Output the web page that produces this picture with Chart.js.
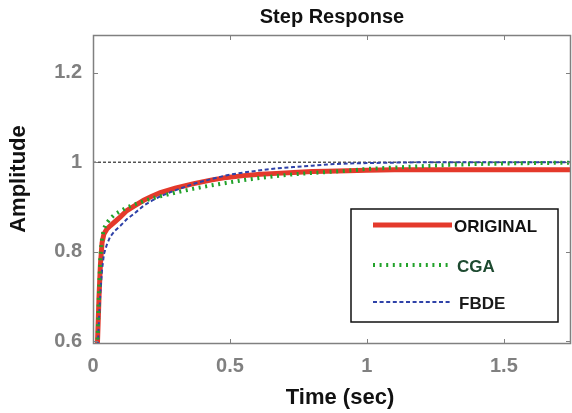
<!DOCTYPE html>
<html>
<head>
<meta charset="utf-8">
<title>Step Response</title>
<script src="https://cdn.jsdelivr.net/npm/chart.js@4.4.0/dist/chart.umd.min.js"></script>
<style>
  html, body { margin: 0; padding: 0; background: #fff; }
  #wrap { width: 572px; height: 413px; }
</style>
</head>
<body>
<div id="wrap"><canvas id="stepChart" width="572" height="413"></canvas></div>
<script>
/**
 * Step Response - ORIGINAL / CGA / FBDE
 */
var time = [0, 0.016, 0.022, 0.027, 0.033, 0.04, 0.05, 0.063, 0.08, 0.1, 0.124, 0.15, 0.185, 0.215, 0.246,
  0.3, 0.368, 0.43, 0.489, 0.55, 0.611, 0.67, 0.732, 0.8, 0.854, 0.93, 1.0, 1.1, 1.2, 1.3, 1.4, 1.5, 1.6, 1.75];
var original = [0, 0.59, 0.70, 0.77, 0.82, 0.84, 0.85, 0.858, 0.867, 0.878, 0.892, 0.902, 0.915, 0.924, 0.932,
  0.942, 0.952, 0.960, 0.966, 0.970, 0.973, 0.975, 0.977, 0.979, 0.980, 0.981, 0.982, 0.983, 0.983, 0.983, 0.983, 0.983, 0.983, 0.983];
var cga = [0, 0.59, 0.71, 0.79, 0.83, 0.852, 0.864, 0.874, 0.884, 0.891, 0.899, 0.905, 0.913, 0.919, 0.924,
  0.932, 0.941, 0.948, 0.954, 0.960, 0.965, 0.969, 0.973, 0.976, 0.978, 0.981, 0.985, 0.988, 0.991, 0.994, 0.996, 0.997, 0.998, 0.999];
var fbde = [0, 0.56, 0.65, 0.71, 0.76, 0.795, 0.815, 0.834, 0.847, 0.858, 0.873, 0.885, 0.903, 0.914, 0.924,
  0.937, 0.952, 0.962, 0.971, 0.977, 0.982, 0.986, 0.989, 0.992, 0.995, 0.997, 0.998, 0.999, 1.0, 1.0, 1.0, 1.0, 1.0, 1.0];
var setPoint = [1, 1];
var setPointTime = [0, 1.745];
var xTicks = [0, 0.5, 1, 1.5];
var yTicks = [0.6, 0.8, 1, 1.2];
var seriesNames = ['ORIGINAL', 'CGA', 'FBDE'];

(function() {
  var FONT = '"Liberation Sans", Arial, Helvetica, sans-serif';
  var GRAY = '#808080';
  Chart.defaults.font.family = FONT;

  function pts(xs, ys) {
    return xs.map(function(t, i) { return { x: t, y: ys[i] }; });
  }
  function fixedTicks(list) {
    return function(scale) {
      scale.ticks = list.map(function(v) { return { value: v }; });
    };
  }
  function fmt(v) { return String(v); }

  // box, inward ticks and axis titles (MATLAB style)
  var framePlugin = {
    id: 'frame',
    afterDatasetsDraw: function(chart) {
      var ctx = chart.ctx, a = chart.chartArea, xs = chart.scales.x, ys = chart.scales.y;
      ctx.save();
      ctx.strokeStyle = GRAY;
      ctx.lineWidth = 1.5;
      ctx.strokeRect(a.left + 0.5, a.top + 0.5, a.right - a.left - 1, a.bottom - a.top - 1);
      ctx.lineWidth = 1;
      ctx.beginPath();
      xTicks.forEach(function(v) {
        var px = Math.round(xs.getPixelForValue(v)) + 0.5;
        ctx.moveTo(px, a.bottom); ctx.lineTo(px, a.bottom - 5);
        ctx.moveTo(px, a.top); ctx.lineTo(px, a.top + 5);
      });
      yTicks.forEach(function(v) {
        var py = Math.round(ys.getPixelForValue(v)) + 0.5;
        ctx.moveTo(a.left, py); ctx.lineTo(a.left + 5, py);
        ctx.moveTo(a.right, py); ctx.lineTo(a.right - 5, py);
      });
      ctx.stroke();

      ctx.fillStyle = '#111';
      ctx.font = 'bold 22px ' + FONT;
      ctx.textAlign = 'center';
      ctx.textBaseline = 'middle';
      ctx.fillText('Time (sec)', 340, 398);
      ctx.translate(19, 179);
      ctx.rotate(-Math.PI / 2);
      ctx.fillText('Amplitude', 0, 0);
      ctx.restore();
    }
  };

  var legendTextColors = ['#111', '#1d4a30', '#1a1a1a'];
  var legendTextShift = [2, 5, 7];

  var legendPlugin = {
    id: 'boxLegend',
    afterDraw: function(chart) {
      var ctx = chart.ctx;
      var box = { left: 351, top: 209, right: 558, bottom: 322 };
      var rows = [16, 56, 93];
      ctx.save();
      ctx.fillStyle = '#fff';
      ctx.fillRect(box.left, box.top, box.right - box.left, box.bottom - box.top);
      ctx.strokeStyle = '#111';
      ctx.lineWidth = 1.5;
      ctx.strokeRect(box.left, box.top, box.right - box.left, box.bottom - box.top);
      seriesNames.forEach(function(name, i) {
        var ds = chart.data.datasets.filter(function(d) { return d.label === name; })[0];
        var y = box.top + rows[i];
        var x0 = box.left + 22, x1 = box.left + 101;
        ctx.beginPath();
        ctx.strokeStyle = ds.borderColor;
        ctx.lineWidth = ds.borderWidth;
        ctx.setLineDash(ds.borderDash || []);
        ctx.moveTo(x0, y); ctx.lineTo(x1, y);
        ctx.stroke();
        ctx.setLineDash([]);
        ctx.fillStyle = legendTextColors[i];
        ctx.font = 'bold 17px ' + FONT;
        ctx.textAlign = 'left';
        ctx.textBaseline = 'middle';
        ctx.fillText(name, x1 + legendTextShift[i], y + 2);
      });
      ctx.restore();
    }
  };

  new Chart(document.getElementById('stepChart'), {
    type: 'line',
    data: {
      datasets: [
        { label: 'CGA', data: pts(time, cga), borderColor: '#22a22a', borderWidth: 4, borderDash: [2, 4.6], order: 0 },
        { label: 'FBDE', data: pts(time, fbde), borderColor: '#2f42a8', borderWidth: 2, borderDash: [4, 2.6], order: 1 },
        { label: 'ORIGINAL', data: pts(time, original), borderColor: '#e4392b', borderWidth: 5, order: 2 },
        { label: 'setpoint', data: pts(setPointTime, setPoint), borderColor: '#000', borderWidth: 1, borderDash: [3, 2], order: 3 }
      ]
    },
    options: {
      responsive: false,
      animation: false,
      devicePixelRatio: 1,
      elements: { point: { radius: 0 }, line: { tension: 0, fill: false } },
      layout: { padding: { left: 0, right: 1, top: 0, bottom: 0 } },
      plugins: {
        legend: { display: false },
        tooltip: { enabled: false },
        title: {
          display: true, fullSize: false, text: 'Step Response', color: '#111',
          font: { size: 20, weight: 'bold' }, padding: { top: 5, bottom: 6 }
        }
      },
      scales: {
        x: {
          type: 'linear', min: 0, max: 1.745,
          grid: { display: false, drawTicks: false }, border: { display: false },
          ticks: { color: GRAY, font: { size: 20, weight: 'bold' }, padding: 10, callback: fmt },
          afterBuildTicks: fixedTicks(xTicks),
          afterFit: function(s) { s.height = 69; }
        },
        y: {
          type: 'linear', min: 0.594, max: 1.284,
          grid: { display: false, drawTicks: false }, border: { display: false },
          ticks: { color: GRAY, font: { size: 20, weight: 'bold' }, padding: 11, callback: fmt },
          afterBuildTicks: fixedTicks(yTicks),
          afterFit: function(s) { s.width = 93; }
        }
      }
    },
    plugins: [framePlugin, legendPlugin]
  });
})();
</script>
</body>
</html>
